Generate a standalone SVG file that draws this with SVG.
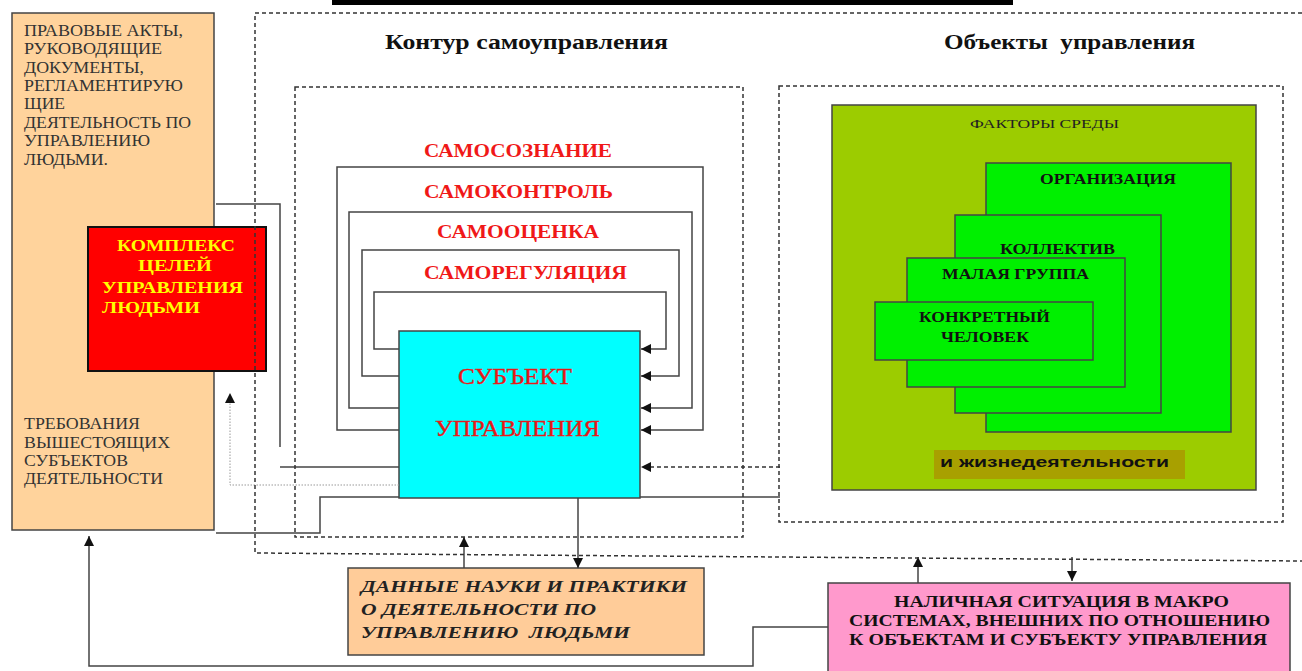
<svg xmlns="http://www.w3.org/2000/svg" width="1302" height="671" viewBox="0 0 1302 671">
  <style>
    .box { stroke: #444; stroke-width: 1.5; }
    .ln { fill: none; stroke: #444; stroke-width: 1.5; }
    .dash { fill: none; stroke: #333; stroke-width: 1.5; stroke-dasharray: 4 3; }
    .dot { fill: none; stroke: #999; stroke-width: 1; stroke-dasharray: 1.5 1.5; }
    .serif { font-family: "Liberation Serif", "DejaVu Serif", serif; }
    .note { font-size: 17px; fill: #333; }
    .red { font-size: 18px; font-weight: bold; fill: #f01818; }
    .title { font-size: 20px; font-weight: bold; fill: #111; }
    .lbl { font-size: 14px; font-weight: bold; fill: #111; }
    .pre { white-space: pre; }
  </style>
  <defs>
    <marker id="arr" viewBox="0 0 10 10" refX="10" refY="5" markerWidth="11" markerHeight="10" markerUnits="userSpaceOnUse" orient="auto">
      <path d="M0,0 L10,5 L0,10 z" fill="#111"/>
    </marker>
  </defs>

  <rect x="332" y="0" width="681" height="5" fill="#000"/>

  <!-- left column: regulations and requirements -->
  <g id="regulations">
    <rect class="box" x="12" y="13" width="202" height="517" fill="#ffd39c"/>
    <g class="serif note">
      <text x="24" y="36" textLength="159" lengthAdjust="spacingAndGlyphs">ПРАВОВЫЕ АКТЫ,</text>
      <text x="24" y="54" textLength="138" lengthAdjust="spacingAndGlyphs">РУКОВОДЯЩИЕ</text>
      <text x="24" y="73" textLength="120" lengthAdjust="spacingAndGlyphs">ДОКУМЕНТЫ,</text>
      <text x="24" y="91" textLength="159" lengthAdjust="spacingAndGlyphs">РЕГЛАМЕНТИРУЮ</text>
      <text x="24" y="109" textLength="41" lengthAdjust="spacingAndGlyphs">ЩИЕ</text>
      <text x="24" y="128" textLength="167" lengthAdjust="spacingAndGlyphs">ДЕЯТЕЛЬНОСТЬ ПО</text>
      <text x="24" y="146" textLength="126" lengthAdjust="spacingAndGlyphs">УПРАВЛЕНИЮ</text>
      <text x="24" y="165" textLength="84" lengthAdjust="spacingAndGlyphs">ЛЮДЬМИ.</text>
      <text x="24" y="429" textLength="116" lengthAdjust="spacingAndGlyphs">ТРЕБОВАНИЯ</text>
      <text x="24" y="448" textLength="146" lengthAdjust="spacingAndGlyphs">ВЫШЕСТОЯЩИХ</text>
      <text x="24" y="466" textLength="104" lengthAdjust="spacingAndGlyphs">СУБЪЕКТОВ</text>
      <text x="24" y="484" textLength="139" lengthAdjust="spacingAndGlyphs">ДЕЯТЕЛЬНОСТИ</text>
    </g>
  </g>

  <g id="goals">
    <rect x="88" y="227" width="178" height="144" fill="#ff0000" stroke="#111" stroke-width="2"/>
    <g class="serif" font-size="17" font-weight="bold" fill="#ffff00">
      <text x="117" y="251" textLength="118" lengthAdjust="spacingAndGlyphs">КОМПЛЕКС</text>
      <text x="138" y="271" textLength="74" lengthAdjust="spacingAndGlyphs">ЦЕЛЕЙ</text>
      <text x="102" y="293" textLength="141" lengthAdjust="spacingAndGlyphs">УПРАВЛЕНИЯ</text>
      <text x="102" y="313" textLength="98" lengthAdjust="spacingAndGlyphs">ЛЮДЬМИ</text>
    </g>
  </g>

  <!-- section titles -->
  <g id="titles" class="serif title">
    <text x="385" y="49" textLength="283" lengthAdjust="spacingAndGlyphs">Контур самоуправления</text>
    <text class="pre" x="944" y="49" textLength="251" lengthAdjust="spacingAndGlyphs">Объекты  управления</text>
  </g>

  <!-- self-management loop labels -->
  <g id="self-levels" class="serif red">
    <text x="424" y="157" textLength="188" lengthAdjust="spacingAndGlyphs">САМОСОЗНАНИЕ</text>
    <text x="424" y="198" textLength="189" lengthAdjust="spacingAndGlyphs">САМОКОНТРОЛЬ</text>
    <text x="437" y="238" textLength="162" lengthAdjust="spacingAndGlyphs">САМООЦЕНКА</text>
    <text x="424" y="279" textLength="203" lengthAdjust="spacingAndGlyphs">САМОРЕГУЛЯЦИЯ</text>
  </g>

  <g id="subject">
    <rect class="box" x="399" y="331" width="241" height="167" fill="#00ffff"/>
    <g class="serif" font-size="24" fill="#e81818" stroke="#e81818" stroke-width="0.4">
      <text x="458" y="384" textLength="114" lengthAdjust="spacingAndGlyphs">СУБЪЕКТ</text>
      <text x="435" y="436" textLength="165" lengthAdjust="spacingAndGlyphs">УПРАВЛЕНИЯ</text>
    </g>
  </g>

  <!-- objects of management -->
  <g id="environment">
    <rect class="box" x="832" y="105" width="424" height="385" fill="#9ccc00"/>
    <text class="serif" x="970" y="128" font-size="13" fill="#222" textLength="149" lengthAdjust="spacingAndGlyphs">ФАКТОРЫ СРЕДЫ</text>
    <rect x="934" y="450" width="251" height="29" fill="#a8a000"/>
    <text x="940" y="467" font-family="'Liberation Sans', Arial, sans-serif" font-size="14" font-weight="bold" fill="#111" textLength="229" lengthAdjust="spacingAndGlyphs">и жизнедеятельности</text>
  </g>
  <g id="organization">
    <rect class="box" x="986" y="163" width="245" height="269" fill="#00f000"/>
    <text class="serif lbl" x="1040" y="184" textLength="136" lengthAdjust="spacingAndGlyphs">ОРГАНИЗАЦИЯ</text>
  </g>
  <g id="collective">
    <rect class="box" x="955" y="215" width="206" height="198" fill="#00f000"/>
    <text class="serif lbl" x="1000" y="254" textLength="115" lengthAdjust="spacingAndGlyphs">КОЛЛЕКТИВ</text>
  </g>
  <g id="small-group">
    <rect class="box" x="907" y="258" width="218" height="129" fill="#00f000"/>
    <text class="serif lbl" x="942" y="279" textLength="147" lengthAdjust="spacingAndGlyphs">МАЛАЯ ГРУППА</text>
  </g>
  <g id="person">
    <rect class="box" x="875" y="302" width="218" height="58" fill="#00f000"/>
    <text class="serif lbl" x="919" y="322" textLength="131" lengthAdjust="spacingAndGlyphs">КОНКРЕТНЫЙ</text>
    <text class="serif lbl" x="941" y="342" textLength="88" lengthAdjust="spacingAndGlyphs">ЧЕЛОВЕК</text>
  </g>

  <g id="science-data">
    <rect class="box" x="348" y="568" width="356" height="87" fill="#ffcc99"/>
    <g class="serif" font-size="16" font-weight="bold" font-style="italic" fill="#222">
      <text x="361" y="592" textLength="326" lengthAdjust="spacingAndGlyphs">ДАННЫЕ НАУКИ И ПРАКТИКИ</text>
      <text x="361" y="615" textLength="235" lengthAdjust="spacingAndGlyphs">О ДЕЯТЕЛЬНОСТИ ПО</text>
      <text class="pre" x="361" y="638" textLength="269" lengthAdjust="spacingAndGlyphs">УПРАВЛЕНИЮ  ЛЮДЬМИ</text>
    </g>
  </g>

  <g id="macro-situation">
    <rect class="box" x="828" y="583" width="462" height="95" fill="#ff99cc"/>
    <g class="serif" font-size="16" font-weight="bold" fill="#111">
      <text x="894" y="607" textLength="335" lengthAdjust="spacingAndGlyphs">НАЛИЧНАЯ СИТУАЦИЯ В МАКРО</text>
      <text x="849" y="626" textLength="421" lengthAdjust="spacingAndGlyphs">СИСТЕМАХ, ВНЕШНИХ ПО ОТНОШЕНИЮ</text>
      <text x="849" y="645" textLength="418" lengthAdjust="spacingAndGlyphs">К ОБЪЕКТАМ И СУБЪЕКТУ УПРАВЛЕНИЯ</text>
    </g>
  </g>

  <!-- connectors -->
  <g id="connectors">
    <path class="ln" d="M399,430 H337 V167 H703 V430 H641" marker-end="url(#arr)"/>
    <path class="ln" d="M399,408 H349 V212 H692 V408 H641" marker-end="url(#arr)"/>
    <path class="ln" d="M399,376 H362 V250 H679 V376 H641" marker-end="url(#arr)"/>
    <path class="ln" d="M399,349 H374 V292 H666 V349 H641" marker-end="url(#arr)"/>
    <path class="dash" d="M780,467 H641" marker-end="url(#arr)"/>
    <path class="ln" d="M640,497 H780"/>
    <path class="ln" d="M216,204 H280 V447"/>
    <path class="ln" d="M280,467 H399"/>
    <path class="dot" d="M399,485 H230 V393" marker-end="url(#arr)"/>
    <path class="ln" d="M399,497 H320 V533 H216"/>
    <path class="ln" d="M578,498 V568" marker-end="url(#arr)"/>
    <path class="ln" d="M464,568 V537" marker-end="url(#arr)"/>
    <path class="ln" d="M918,583 V557" marker-end="url(#arr)"/>
    <path class="ln" d="M1072,557 V581" marker-end="url(#arr)"/>
    <path class="ln" d="M828,627 H753 V666 H89 V536" marker-end="url(#arr)"/>
  </g>

  <!-- dashed frames -->
  <g id="frames">
    <path class="dash" d="M1302,13 H255 V553 L1302,561"/>
    <rect class="dash" x="295" y="87" width="448" height="450"/>
    <rect class="dash" x="779" y="86" width="504" height="436"/>
  </g>
</svg>
